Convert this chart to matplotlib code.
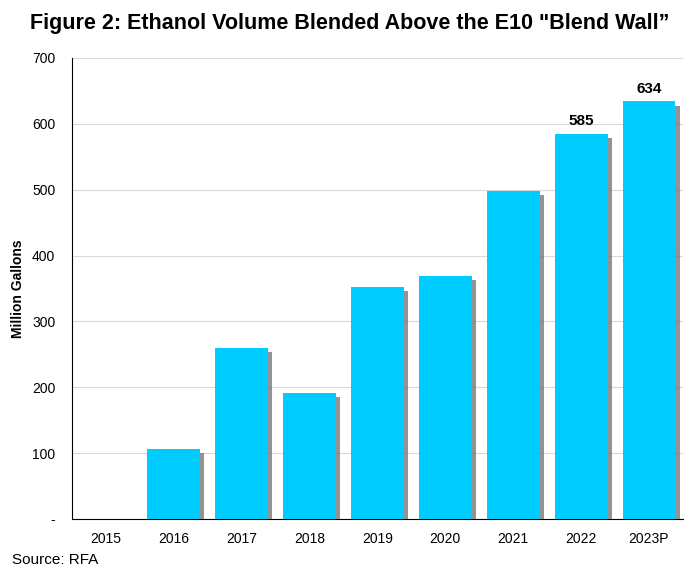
import matplotlib
matplotlib.use("Agg")
import matplotlib.pyplot as plt
import matplotlib.patheffects as pe

plt.rcParams['font.family'] = ['Liberation Sans', 'DejaVu Sans']

years = ["2015", "2016", "2017", "2018", "2019", "2020", "2021", "2022", "2023P"]
volumes = [0, 106, 260, 191, 352, 369, 498, 585, 634]
labeled = {"2022": "585", "2023P": "634"}
yticks = [0, 100, 200, 300, 400, 500, 600, 700]
ytick_labels = ["-", "100", "200", "300", "400", "500", "600", "700"]

fig = plt.figure(figsize=(6.99, 5.79), dpi=100)
ax = fig.add_axes([0.103, 0.1036, 0.874, 0.7964])

x = range(len(years))
bars = ax.bar(x, volumes, width=0.78, color="#00CCFF", zorder=3)
for b in bars:
    b.set_path_effects([pe.SimplePatchShadow(offset=(3, -3), shadow_rgbFace="#6f6f6f", alpha=0.75), pe.Normal()])

for i, (yr, v) in enumerate(zip(years, volumes)):
    if yr in labeled:
        ax.text(i, v + 8, labeled[yr], ha="center", va="bottom", fontsize=11, fontweight="bold")

ax.set_ylim(0, 700)
ax.set_xlim(-0.5, len(years) - 0.5)
ax.set_yticks(yticks)
ax.set_yticklabels(ytick_labels, fontsize=10)
ax.set_xticks(list(x))
ax.set_xticklabels(years, fontsize=10)
ax.tick_params(axis="x", length=0, pad=9)
ax.tick_params(axis="y", length=0, pad=12)
ax.yaxis.grid(True, color="#d9d9d9", linewidth=0.8, zorder=0)
ax.set_axisbelow(True)
for s in ["top", "right"]:
    ax.spines[s].set_visible(False)
ax.spines["left"].set_color("black")
ax.spines["bottom"].set_color("black")
ax.set_ylabel("Million Gallons", fontsize=10, fontweight="bold", labelpad=5)

fig.text(0.5, 0.96, "Figure 2: Ethanol Volume Blended Above the E10 \"Blend Wall\u201d",
         ha="center", va="center", fontsize=15.5, fontweight="bold")
fig.text(0.017, 0.032, "Source: RFA", ha="left", va="center", fontsize=11)

fig.savefig("out.png", dpi=100)
